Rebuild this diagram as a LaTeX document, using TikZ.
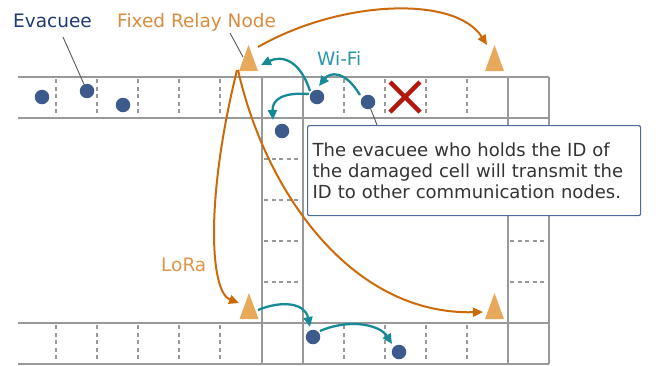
\documentclass[tikz,border=0pt]{standalone}
\usepackage{fontspec}
\setmainfont{DejaVu Sans}
\usetikzlibrary{arrows.meta,calc}
\definecolor{gridc}{HTML}{999999}
\definecolor{evacc}{HTML}{3C5A8C}
\definecolor{relayc}{HTML}{E8A95A}
\definecolor{lorac}{HTML}{CC6A0A}
\definecolor{wific}{HTML}{178A98}
\definecolor{evtext}{HTML}{1F3A70}
\definecolor{frntext}{HTML}{D98C3F}
\definecolor{wifitext}{HTML}{2A95A6}
\definecolor{loratext}{HTML}{E0954A}
\definecolor{boxc}{HTML}{4A6B9E}
\definecolor{textc}{HTML}{333333}
\definecolor{xc}{HTML}{B5170E}
\definecolor{ptrc}{HTML}{555555}
\begin{document}
\begin{tikzpicture}[x=1pt,y=-1pt,
  gridline/.style={draw=gridc,line width=2pt},
  griddash/.style={draw=gridc,line width=1.6pt,dash pattern=on 4pt off 3.6pt},
  evac/.style={circle,fill=evacc,minimum size=14.5pt,inner sep=0pt},
  relaytri/.pic={\fill[relayc] (-9.5,13) -- (0,-13) -- (9.5,13) -- cycle;},
  lora/.style={draw=lorac,line width=2pt,-{Triangle[length=10pt,width=9pt]}},
  wifi/.style={draw=wific,line width=2.3pt,-{Triangle[length=10pt,width=9pt]}},
  lbl/.style={inner sep=0pt,font=\fontsize{18.5}{22}\selectfont},
  ptr/.style={draw=ptrc,line width=0.9pt},
  msgbox/.style={draw=boxc,line width=1.2pt,fill=white,rounded corners=2pt,
    minimum width=333pt,minimum height=90pt,text width=323pt,inner xsep=5pt,
    align=left,text=textc,font=\fontsize{18}{21}\selectfont},
  xmark/.style={draw=xc,line width=4.5pt}]
\useasboundingbox (0,0) rectangle (656,365);
% grid
\foreach \y in {77,118,323,364} \draw[gridline] (18,\y) -- (549,\y);
\foreach \x in {262,303,508,549} \draw[gridline] (\x,77) -- (\x,364);
\foreach \x in {56,97,138,179,220,344,385,426,467} {
  \draw[griddash] (\x,79) -- (\x,116);
  \draw[griddash] (\x,325) -- (\x,362);
}
\foreach \y in {159,200,241,282} {
  \draw[griddash] (264,\y) -- (301,\y);
  \draw[griddash] (510,\y) -- (547,\y);
}
% damaged cell
\draw[xmark] (390,82) -- (420,112);
\draw[xmark] (420,82) -- (390,112);
% relay nodes
\coordinate (r1) at (248.5,58);
\coordinate (r2) at (494.5,58);
\coordinate (r3) at (249,306);
\coordinate (r4) at (494.5,306);
\foreach \r in {r1,r2,r3,r4} \pic at (\r) {relaytri};
% evacuees
\node[evac] (e1) at (42,97) {};
\node[evac] (e2) at (87,91) {};
\node[evac] (e3) at (123,105) {};
\node[evac] (e4) at (317,97) {};
\node[evac] (e5) at (368,102) {};
\node[evac] (e6) at (282,131) {};
\node[evac] (e7) at (313,337) {};
\node[evac] (e8) at (399,352) {};
% message box
\node[msgbox,anchor=north west] (msg) at (307,125)
  {The evacuee who holds the ID of\\the damaged cell will transmit the\\ID to other communication nodes.};
% labels
\node[lbl,text=evtext,anchor=base west] (lev) at (13,27) {Evacuee};
\node[lbl,text=frntext,anchor=base west] (lfrn) at (117,27) {Fixed Relay Node};
\node[lbl,text=wifitext,anchor=base west] (lwifi) at (317,65) {Wi-Fi};
\node[lbl,text=loratext,anchor=base west] (llora) at (161,271) {LoRa};
% pointers
\coordinate (p1) at (63,37);
\coordinate (p2) at (230,33);
\coordinate (p3) at (377,125);
\draw[ptr] (p1) -- (e2);
\draw[ptr] (p2) -- ($(r1)+(-5.5,-1)$);
\draw[ptr] (e5) -- (p3);
% LoRa links
\draw[lora] ($(r1)+(9.5,-11)$) .. controls (340,0) and (455,-5) .. ($(r2)+(-7.5,-13)$);
\draw[lora] ($(r1)+(-11.5,12)$) .. controls (205,200) and (210,292) .. ($(r3)+(-10,-3)$);
\draw[lora] ($(r1)+(-10.5,12)$) .. controls (265,190) and (350,315) .. ($(r4)+(-11.5,6)$);
% Wi-Fi links
\draw[wifi] ($(e4)+(-7,-6)$) .. controls (300,60) and (282,55) .. ($(r1)+(12.5,7)$);
\draw[wifi] ($(e4)+(-8,-3)$) .. controls (282,92) and (272,100) .. ($(e6)+(-9,-11)$);
\draw[wifi] ($(e5)+(-8,-7)$) .. controls (345,70) and (330,72) .. ($(e4)+(2,-11)$);
\draw[wifi] ($(r3)+(9,4)$) .. controls (282,300) and (305,303) .. ($(e7)+(-3,-10)$);
\draw[wifi] ($(e7)+(7,-6)$) .. controls (350,318) and (380,325) .. ($(e8)+(-7,-8)$);
\end{tikzpicture}
\end{document}
